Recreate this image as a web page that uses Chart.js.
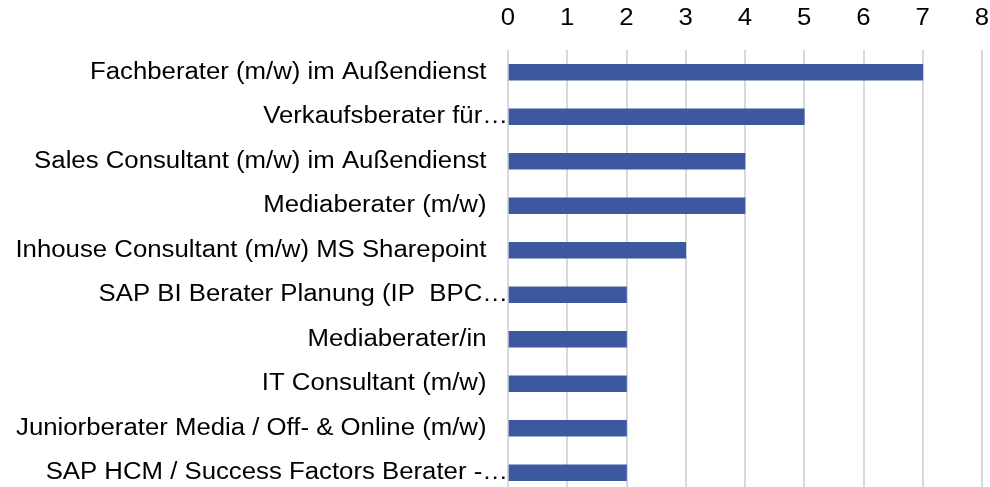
<!DOCTYPE html>
<html>
<head>
<meta charset="utf-8">
<script src="https://cdn.jsdelivr.net/npm/chart.js@4/dist/chart.umd.min.js"></script>
<style>
  html, body { margin: 0; padding: 0; background: #fff; overflow: hidden; }
  #wrap { width: 990px; height: 487px; overflow: hidden; position: relative; }
  canvas { display: block; }
</style>
</head>
<body>
<div id="wrap"><canvas id="c" width="990" height="495"></canvas></div>
<script>
const categories = [
  "Fachberater (m/w) im Außendienst",
  "Verkaufsberater für…",
  "Sales Consultant (m/w) im Außendienst",
  "Mediaberater (m/w)",
  "Inhouse Consultant (m/w) MS Sharepoint",
  "SAP BI Berater Planung (IP  BPC…",
  "Mediaberater/in",
  "IT Consultant (m/w)",
  "Juniorberater Media / Off- & Online (m/w)",
  "SAP HCM / Success Factors Berater -…"
];
const counts = [7, 5, 4, 4, 3, 2, 2, 2, 2, 2];
const axisTicks = [0, 1, 2, 3, 4, 5, 6, 7, 8];

const FONT = "'Liberation Sans', Arial, sans-serif";
const TEXT_STRETCH = 1.12;

// draw all chart text slightly stretched horizontally (wide glyphs as in the reference)
const stretchPlugin = {
  id: 'stretchText',
  beforeInit(chart) {
    const ctx = chart.ctx;
    const orig = ctx.fillText.bind(ctx);
    ctx.fillText = function (text, x, y, maxWidth) {
      ctx.save();
      ctx.translate(x, y);
      ctx.scale(TEXT_STRETCH, 1);
      if (maxWidth !== undefined) orig(text, 0, 0, maxWidth / TEXT_STRETCH);
      else orig(text, 0, 0);
      ctx.restore();
    };
  }
};

new Chart(document.getElementById('c'), {
  type: 'bar',
  data: {
    labels: categories,
    datasets: [{
      data: counts,
      backgroundColor: '#3C58A0',
      borderWidth: 0,
      barThickness: 16
    }]
  },
  plugins: [stretchPlugin],
  options: {
    indexAxis: 'y',
    responsive: false,
    animation: false,
    layout: { padding: { left: 0, right: 8, top: 0, bottom: 0 } },
    plugins: { legend: { display: false }, tooltip: { enabled: false } },
    scales: {
      x: {
        position: 'top',
        min: axisTicks[0],
        max: axisTicks[axisTicks.length - 1],
        afterBuildTicks(scale) { scale.ticks = axisTicks.map(v => ({ value: v })); },
        afterFit(scale) {
          scale.height = 50;
          scale.paddingLeft = 0; scale.paddingRight = 0;
          scale.paddingTop = 0; scale.paddingBottom = 0;
        },
        ticks: {
          stepSize: 1,
          padding: 18,
          color: '#000',
          font: { family: FONT, size: 23 }
        },
        grid: { color: '#d9d9d9', lineWidth: 2, drawTicks: false },
        border: { display: false }
      },
      y: {
        afterFit(scale) {
          scale.width = 508;
          scale.paddingLeft = 0; scale.paddingRight = 0;
          scale.paddingTop = 0; scale.paddingBottom = 0;
        },
        ticks: {
          autoSkip: false,
          padding: 0,
          color: '#000',
          font: { family: FONT, size: 23 },
          callback(value) {
            const t = this.getLabelForValue(value);
            return t.endsWith('…') ? t : t + '   ';
          }
        },
        grid: { display: false, drawTicks: false },
        border: { display: false }
      }
    }
  }
});
</script>
</body>
</html>
